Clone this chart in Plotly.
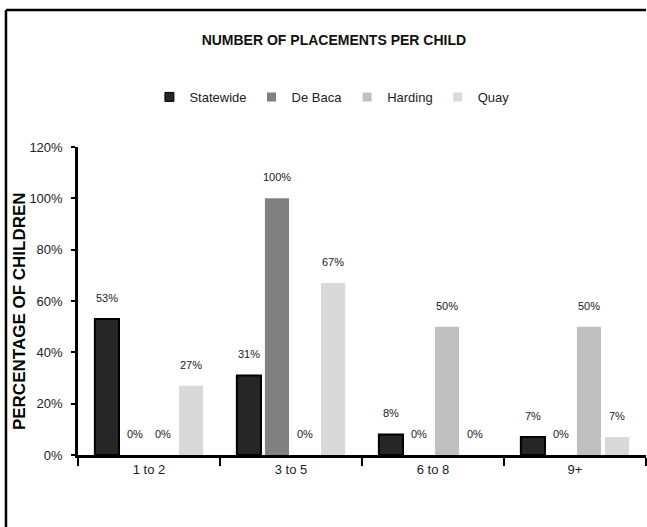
import plotly.graph_objects as go

categories = ["1 to 2", "3 to 5", "6 to 8", "9+"]
series_names = ["Statewide", "De Baca", "Harding", "Quay"]
statewide = [53, 31, 8, 7]
de_baca = [0, 100, 0, 0]
harding = [0, 0, 50, 50]
quay = [27, 67, 0, 7]
y_ticks = [0, 20, 40, 60, 80, 100, 120]
y_tick_labels = [f"{v}%" for v in y_ticks]

series_values = [statewide, de_baca, harding, quay]
colors = ["#262626", "#808080", "#c0c0c0", "#d9d9d9"]
line_w = [2, 0, 0, 0]

NARROW = "Liberation Sans Narrow, Arial Narrow, Liberation Sans, Arial, sans-serif"
WIDE = "Liberation Sans, Arial, sans-serif"

fig = go.Figure()
for name, vals, c, lw in zip(series_names, series_values, colors, line_w):
    fig.add_trace(go.Bar(
        x=categories, y=vals, name=name, showlegend=False,
        marker=dict(color=c, line=dict(color="black", width=lw)),
        hoverinfo="skip",
    ))
    fig.add_trace(go.Scatter(
        x=[None], y=[None], mode="markers", name=name,
        marker=dict(symbol="square", size=9, color=c,
                    line=dict(color="black", width=lw / 2)),
    ))

# data labels
spacing_px = 28
for i, vals in enumerate(series_values):
    for cat, v in zip(categories, vals):
        fig.add_annotation(
            x=cat, y=v, text=f"{v}%", showarrow=False,
            xshift=(i - 1.5) * spacing_px, yshift=21,
            yanchor="middle", xanchor="center",
            font=dict(family=NARROW, size=11, color="#1a1a1a"),
        )

# y-axis title
fig.add_annotation(
    x=-0.104, y=0.467, xref="paper", yref="paper",
    text="<b>PERCENTAGE OF CHILDREN</b>", textangle=-90, showarrow=False,
    xanchor="center", yanchor="middle",
    font=dict(family=WIDE, size=17, color="black"),
)

# outer frame: only its top and left edges fall inside the picture
fig.add_shape(type="line", xref="paper", yref="paper",
              x0=-0.1268, x1=1.0, y0=1.445, y1=1.445,
              line=dict(color="black", width=2.5))
fig.add_shape(type="line", xref="paper", yref="paper",
              x0=-0.1268, x1=-0.1268, y0=-0.5, y1=1.445,
              line=dict(color="black", width=2.5))

fig.update_layout(
    width=647, height=527,
    margin=dict(l=78, r=1, t=147, b=72),
    paper_bgcolor="white", plot_bgcolor="white",
    barmode="group", bargap=0.21, bargroupgap=0.14,
    title=dict(text="<b>NUMBER OF PLACEMENTS PER CHILD</b>",
               x=0.516, xref="container", xanchor="center",
               y=0.924, yref="container", yanchor="middle",
               font=dict(family=NARROW, size=14, color="#111")),
    legend=dict(orientation="h", xref="container", yref="container",
                x=0.513, xanchor="center", y=0.816, yanchor="middle",
                font=dict(family=NARROW, size=13, color="#222"),
                itemwidth=30, bgcolor="rgba(0,0,0,0)"),
    xaxis=dict(showline=True, linecolor="black", linewidth=3,
               ticks="outside", tickson="boundaries", ticklen=8,
               tickwidth=2, tickcolor="black",
               tickfont=dict(family=NARROW, size=13, color="#222"),
               showgrid=False, fixedrange=True),
    yaxis=dict(range=[0, 120], tickvals=y_ticks, ticktext=y_tick_labels,
               showline=True, linecolor="black", linewidth=2.5,
               ticks="outside", ticklen=4, tickwidth=2, tickcolor="black",
               tickfont=dict(family=NARROW, size=13, color="#222"),
               ticklabelstandoff=6,
               showgrid=False, zeroline=False, fixedrange=True),
)

fig.write_html("out.html",
               config={"displayModeBar": False},
               post_script="document.body.style.margin='0';document.body.style.padding='0';")
